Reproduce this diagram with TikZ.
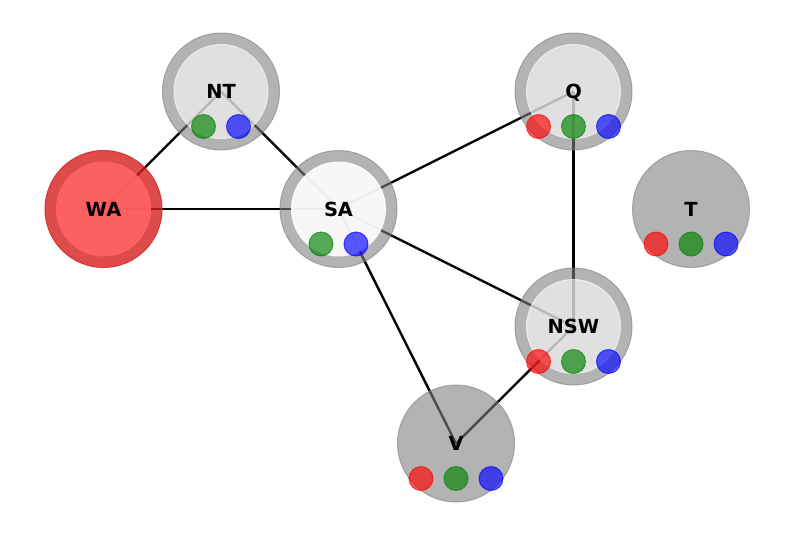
\documentclass[tikz,border=0pt]{standalone}
\usepackage{fontspec}
\setmainfont{DejaVu Sans}
\usetikzlibrary{calc}
\definecolor{dotred}{RGB}{255,0,0}
\definecolor{dotgreen}{RGB}{0,128,0}
\definecolor{dotblue}{RGB}{0,0,255}
\definecolor{ringgray}{RGB}{128,128,128}
\definecolor{waring}{RGB}{214,30,30}
\definecolor{wainner}{RGB}{255,100,100}
\tikzset{
  outer/.style={circle, minimum size=117pt, inner sep=0pt, fill=ringgray, draw=ringgray, fill opacity=0.6, draw opacity=0.6, line width=1pt},
  waouter/.style={circle, minimum size=117pt, inner sep=0pt, fill=waring, draw=waring, fill opacity=0.8, draw opacity=0.8, line width=1pt},
  inner/.style={circle, minimum size=94pt, inner sep=0pt, fill=white, draw=white, fill opacity=#1, draw opacity=#1, line width=1pt},
  wainnerc/.style={circle, minimum size=94pt, inner sep=0pt, fill=wainner, draw=wainner, fill opacity=0.9, draw opacity=0.9, line width=1pt},
  dot/.style={circle, minimum size=24pt, inner sep=0pt, fill=#1, draw=#1, fill opacity=0.65, draw opacity=0.65, line width=1pt},
  lbl/.style={inner sep=0pt, font=\bfseries\fontsize{19.4}{20}\selectfont, text height=14pt, text depth=0pt},
  edge/.style={line width=2.4pt, black}
}
\begin{document}
\begin{tikzpicture}[x=1pt,y=-1pt]
\useasboundingbox (0,0) rectangle (794,536);
% centers
\coordinate (WA) at (103.5,209);
\coordinate (NT) at (221,91.5);
\coordinate (SA) at (338.5,209);
\coordinate (Q) at (573.5,91.5);
\coordinate (T) at (691,209);
\coordinate (NSW) at (573.5,326.5);
\coordinate (V) at (456,443.5);
% edges
\draw[edge] (WA) -- (NT);
\draw[edge] (WA) -- (SA);
\draw[edge] (NT) -- (SA);
\draw[edge] (SA) -- (Q);
\draw[edge] (SA) -- (NSW);
\draw[edge] (SA) -- (V);
\draw[edge] (Q) -- (NSW);
\draw[edge] (NSW) -- (V);
% WA
\node[waouter] (WAo) at (WA) {};
\node[wainnerc] (WAi) at (WA) {};
\node[lbl] (WAl) at (WA) {WA};
% NT
\node[outer] (NTo) at (NT) {};
\node[inner=0.6] (NTi) at (NT) {};
\node[dot=dotgreen] (NTg) at ($(NT)+(-17.5,35)$) {};
\node[dot=dotblue] (NTb) at ($(NT)+(17.5,35)$) {};
\node[lbl] (NTl) at (NT) {NT};
% SA
\node[outer] (SAo) at (SA) {};
\node[inner=0.9] (SAi) at (SA) {};
\node[dot=dotgreen] (SAg) at ($(SA)+(-17.5,35)$) {};
\node[dot=dotblue] (SAb) at ($(SA)+(17.5,35)$) {};
\node[lbl] (SAl) at (SA) {SA};
% Q
\node[outer] (Qo) at (Q) {};
\node[inner=0.6] (Qi) at (Q) {};
\node[dot=dotred] (Qr) at ($(Q)+(-35,35)$) {};
\node[dot=dotgreen] (Qg) at ($(Q)+(0,35)$) {};
\node[dot=dotblue] (Qb) at ($(Q)+(35,35)$) {};
\node[lbl] (Ql) at (Q) {Q};
% T
\node[outer] (To) at (T) {};
\node[dot=dotred] (Tr) at ($(T)+(-35,35)$) {};
\node[dot=dotgreen] (Tg) at ($(T)+(0,35)$) {};
\node[dot=dotblue] (Tb) at ($(T)+(35,35)$) {};
\node[lbl] (Tl) at (T) {T};
% NSW
\node[outer] (NSWo) at (NSW) {};
\node[inner=0.6] (NSWi) at (NSW) {};
\node[dot=dotred] (NSWr) at ($(NSW)+(-35,35)$) {};
\node[dot=dotgreen] (NSWg) at ($(NSW)+(0,35)$) {};
\node[dot=dotblue] (NSWb) at ($(NSW)+(35,35)$) {};
\node[lbl] (NSWl) at (NSW) {NSW};
% V
\node[outer] (Vo) at (V) {};
\node[dot=dotred] (Vr) at ($(V)+(-35,35)$) {};
\node[dot=dotgreen] (Vg) at ($(V)+(0,35)$) {};
\node[dot=dotblue] (Vb) at ($(V)+(35,35)$) {};
\node[lbl] (Vl) at (V) {V};
\end{tikzpicture}
\end{document}
